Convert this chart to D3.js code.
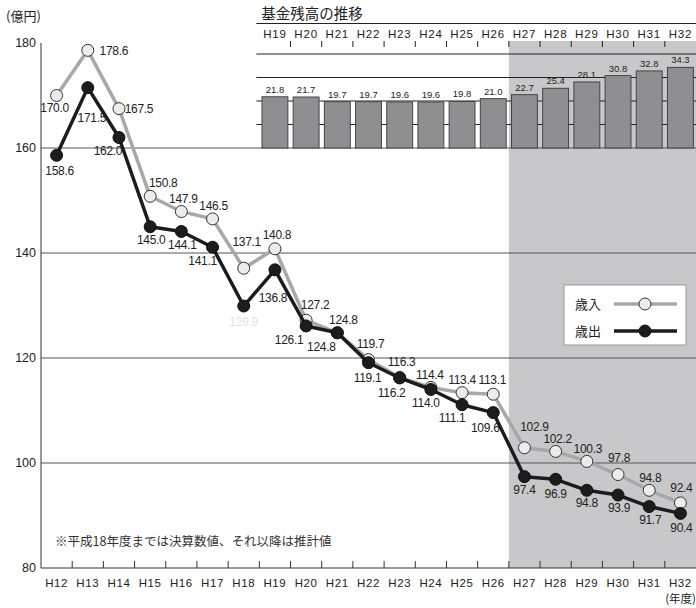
<!DOCTYPE html>
<html>
<head>
<meta charset="utf-8">
<script src="https://cdn.jsdelivr.net/npm/d3@7"></script>
<style>
  body{margin:0;background:#fff;}
  svg{display:block;font-family:"Liberation Sans",Arial,sans-serif;}
  .jp{font-family:"Noto Sans CJK JP","Noto Sans",sans-serif;}
</style>
</head>
<body>
<div id="chart"></div>
<script>
/* data */
const years = ['H12','H13','H14','H15','H16','H17','H18','H19','H20','H21','H22',
  'H23','H24','H25','H26','H27','H28','H29','H30','H31','H32'];
const revenue = [170.0,178.6,167.5,150.8,147.9,146.5,137.1,140.8,127.2,124.8,119.7,
  116.3,114.4,113.4,113.1,102.9,102.2,100.3,97.8,94.8,92.4];
const expenditure = [158.6,171.5,162.0,145.0,144.1,141.1,129.9,136.8,126.1,124.8,119.1,
  116.2,114.0,111.1,109.6,97.4,96.9,94.8,93.9,91.7,90.4];
const fundYears = ['H19','H20','H21','H22','H23','H24','H25','H26','H27','H28','H29','H30','H31','H32'];
const fundBalance = [21.8,21.7,19.7,19.7,19.6,19.6,19.8,21.0,22.7,25.4,28.1,30.8,32.8,34.3];
const yTicks = [80,100,120,140,160,180];
const fundTicks = [10,20,30,40];
const estimateFrom = 'H27';

/* label placement (layout only) */
const revLabelOff = [[-2,12],[26,0],[20,0],[13,-14],[2,-13],[1,-13],[3,-26],[2,-14],[9,-15],[6,-13],[2,-16],
  [2,-16],[-1,-13],[0,-13],[-1,-14],[10,-21],[2,-13],[1,-13],[1,-17],[1,-13],[1,-15]];
const expLabelOff = [[3,15],[4,30],[-11,13],[1,13],[1,13],[-10,14],[0,16],[-2,28],[-17,14],[-16,14],[-1,15],
  [-8,15],[-5,13],[-10,13],[-8,15],[0,13],[0,15],[0,12],[1,13],[1,13],[1,14]];

const W = 696, H = 608;
const margin = {left: 41, bottom: 568, top: 43};

const svg = d3.select('#chart').append('svg')
  .attr('width', W).attr('height', H);

const x = d3.scaleBand().domain(years).range([margin.left, W]);
const y = d3.scaleLinear().domain([80,180]).range([margin.bottom, margin.top]);
const cx = d => x(d) + x.bandwidth()/2;

/*shade for estimates*/
const shadeX = x(estimateFrom);
svg.append('rect')
  .attr('x', shadeX).attr('y', 41)
  .attr('width', W - shadeX).attr('height', margin.bottom - 41)
  .attr('fill', '#c8c8ca');

/*grid lines*/
svg.append('g').selectAll('line')
  .data(yTicks.filter(t => t > 80 && t < 180))
  .enter().append('line')
  .attr('x1', margin.left).attr('x2', W)
  .attr('y1', d => y(d)).attr('y2', d => y(d))
  .attr('stroke', '#555').attr('stroke-width', 1);

/*inset: fund balance*/
const fx = d3.scaleBand().domain(fundYears).range([x('H19'), W]).paddingInner(0.17).paddingOuter(0.085);
const fy = d3.scaleLinear().domain([0,40]).range([y(160), y(160) - 94]);
const insetLeft = x('H19') - 3;

svg.append('text').attr('class','jp')
  .attr('x', insetLeft + 5).attr('y', 19)
  .attr('font-size', 14.5).attr('fill', '#222')
  .text('基金残高の推移');

svg.append('g').selectAll('line')
  .data(fundTicks)
  .enter().append('line')
  .attr('x1', insetLeft).attr('x2', W)
  .attr('y1', d => fy(d)).attr('y2', d => fy(d))
  .attr('stroke', '#222').attr('stroke-width', 1);

svg.append('line')
  .attr('x1', insetLeft).attr('x2', W)
  .attr('y1', 23.5).attr('y2', 23.5)
  .attr('stroke', '#222').attr('stroke-width', 1.2);

svg.append('g').selectAll('text')
  .data(fundYears)
  .enter().append('text')
  .attr('x', d => cx(d)).attr('y', 37.5)
  .attr('text-anchor', 'middle')
  .attr('font-size', 11.5).attr('letter-spacing', 0.8)
  .attr('fill', '#222')
  .text(d => d);

svg.append('g').selectAll('line')
  .data(fundYears.slice(1))
  .enter().append('line')
  .attr('x1', d => x(d)).attr('x2', d => x(d))
  .attr('y1', 41).attr('y2', 47)
  .attr('stroke', '#222');

svg.append('g').selectAll('rect')
  .data(fundBalance)
  .enter().append('rect')
  .attr('x', (d,i) => fx(fundYears[i]))
  .attr('y', d => fy(d))
  .attr('width', fx.bandwidth())
  .attr('height', d => fy(0) - fy(d))
  .attr('fill', '#8f8f92').attr('stroke', '#444').attr('stroke-width', 1);

svg.append('g').selectAll('text')
  .data(fundBalance)
  .enter().append('text')
  .attr('x', (d,i) => cx(fundYears[i]))
  .attr('y', d => fy(d) - 4)
  .attr('text-anchor', 'middle')
  .attr('font-size', 9.5).attr('fill', '#222')
  .text(d => d.toFixed(1));

/*axes*/
svg.append('line')
  .attr('x1', margin.left).attr('x2', margin.left).attr('y1', margin.top).attr('y2', margin.bottom)
  .attr('stroke', '#333');
svg.append('line')
  .attr('x1', margin.left).attr('x2', W).attr('y1', margin.bottom).attr('y2', margin.bottom)
  .attr('stroke', '#333');

svg.append('g').selectAll('text')
  .data(yTicks)
  .enter().append('text')
  .attr('x', 36).attr('y', d => y(d))
  .attr('dy', '0.35em')
  .attr('text-anchor', 'end')
  .attr('font-size', 12.5).attr('fill', '#222')
  .text(d => d);

svg.append('text').attr('class','jp')
  .attr('x', 6).attr('y', 21)
  .attr('font-size', 13).attr('fill', '#222')
  .text('(億円)');

svg.append('g').selectAll('line')
  .data(years.slice(1))
  .enter().append('line')
  .attr('x1', d => x(d)).attr('x2', d => x(d))
  .attr('y1', margin.bottom).attr('y2', margin.bottom - 7)
  .attr('stroke', '#333');

svg.append('g').selectAll('text')
  .data(years)
  .enter().append('text')
  .attr('x', d => cx(d)).attr('y', 587)
  .attr('text-anchor', 'middle')
  .attr('font-size', 11.5).attr('letter-spacing', 0.6)
  .attr('fill', '#222')
  .text(d => d);

svg.append('text').attr('class','jp')
  .attr('x', W).attr('y', 603)
  .attr('text-anchor', 'end')
  .attr('font-size', 11.5).attr('fill', '#222')
  .text('(年度)');

svg.append('text').attr('class','jp')
  .attr('x', 55).attr('y', 546)
  .attr('font-size', 12.5).attr('fill', '#333')
  .text('※平成18年度までは決算数値、それ以降は推計値');

/*lines*/
const line = d3.line().x((d,i) => cx(years[i])).y(d => y(d));

const series = [
  {name:'歳入', values: revenue, stroke:'#a8a8a8', fill:'#ececec', ring:'#333', off: revLabelOff},
  {name:'歳出', values: expenditure, stroke:'#1c1c1c', fill:'#1c1c1c', ring:'#111', off: expLabelOff}
];

series.forEach(s => {
  svg.append('path')
    .datum(s.values)
    .attr('d', line)
    .attr('fill', 'none')
    .attr('stroke', s.stroke)
    .attr('stroke-width', 3.5)
    .attr('stroke-linejoin', 'round');

  svg.append('g').selectAll('circle')
    .data(s.values)
    .enter().append('circle')
    .attr('cx', (d,i) => cx(years[i]))
    .attr('cy', d => y(d))
    .attr('r', 6)
    .attr('fill', s.fill)
    .attr('stroke', s.ring).attr('stroke-width', 1);
});

series.forEach(s => {
  svg.append('g').selectAll('text')
    .data(s.values)
    .enter().append('text')
    .attr('x', (d,i) => cx(years[i]) + s.off[i][0])
    .attr('y', (d,i) => y(d) + s.off[i][1])
    .attr('dy', '0.35em')
    .attr('text-anchor', 'middle')
    .attr('font-size', 12).attr('letter-spacing', -0.3)
    .attr('fill', (d,i) => (s.name === '歳出' && years[i] === 'H18') ? '#e2e2e2' : '#222')
    .text(d => d.toFixed(1));
});

/*legend*/
const lg = svg.append('g').attr('transform', 'translate(564,285)');
lg.append('rect')
  .attr('width', 122).attr('height', 60)
  .attr('fill', '#fff').attr('stroke', '#999');

series.forEach((s, i) => {
  const ly = 19 + i * 27;
  lg.append('text').attr('class','jp')
    .attr('x', 11).attr('y', ly).attr('dy', '0.35em')
    .attr('font-size', 13).attr('fill', '#222')
    .text(s.name);
  lg.append('line')
    .attr('x1', 50).attr('x2', 113).attr('y1', ly).attr('y2', ly)
    .attr('stroke', s.stroke).attr('stroke-width', 3.5);
  lg.append('circle')
    .attr('cx', 81).attr('cy', ly).attr('r', 6)
    .attr('fill', s.fill).attr('stroke', s.ring).attr('stroke-width', 1);
});
</script>
</body>
</html>
